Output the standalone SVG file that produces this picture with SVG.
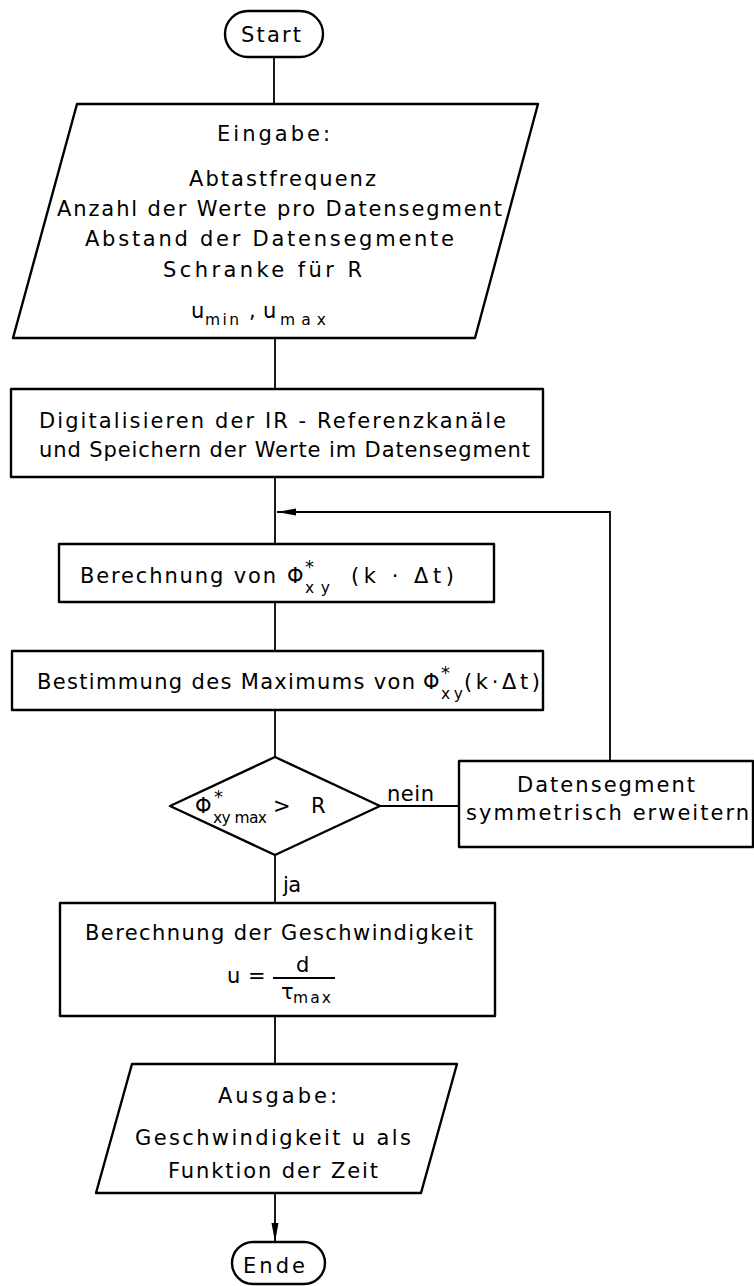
<svg xmlns="http://www.w3.org/2000/svg" width="754" height="1286" viewBox="0 0 754 1286">
<style>
  .shape { fill: #fff; stroke: #000; stroke-width: 2.4; stroke-linejoin: round; }
  .line { fill: none; stroke: #000; stroke-width: 1.8; }
  text { font-family: "DejaVu Sans", "Liberation Sans", sans-serif; font-size: 21px; fill: #000; }
  .sub { font-size: 15.5px; }
  .star { font-size: 18px; }
</style>
<defs>
  <marker id="arr" markerUnits="userSpaceOnUse" markerWidth="20" markerHeight="8" refX="19" refY="4" orient="auto">
    <path d="M0,0.5 L19,4 L0,7.5 z" fill="#000"/>
  </marker>
</defs>
<rect width="754" height="1286" fill="#fff"/>

<g id="connectors">
  <line class="line" x1="274" y1="57" x2="274" y2="104"/>
  <line class="line" x1="275" y1="338" x2="275" y2="389"/>
  <line class="line" x1="275" y1="477" x2="275" y2="544"/>
  <line class="line" x1="275" y1="602" x2="275" y2="651"/>
  <line class="line" x1="275" y1="710" x2="275" y2="757"/>
  <line class="line" x1="275" y1="855" x2="275" y2="903"/>
  <line class="line" x1="380" y1="806" x2="459" y2="806"/>
  <polyline class="line" points="610,761 610,512 277,512" marker-end="url(#arr)"/>
  <line class="line" x1="275" y1="1016" x2="275" y2="1064"/>
  <line class="line" x1="275" y1="1193" x2="275" y2="1242" marker-end="url(#arr)"/>
  <text x="387" y="801" textLength="47" lengthAdjust="spacing">nein</text>
  <text x="283" y="892" textLength="18" lengthAdjust="spacing">ja</text>
</g>

<g id="start">
  <rect class="shape" x="225" y="11" width="98" height="46" rx="23"/>
  <text x="241" y="42" textLength="60" lengthAdjust="spacing">Start</text>
</g>

<g id="eingabe">
  <polygon class="shape" points="77,104 538,104 475,338 13,338"/>
  <text x="217" y="141" textLength="113" lengthAdjust="spacing">Eingabe:</text>
  <text x="189" y="186" textLength="187" lengthAdjust="spacing">Abtastfrequenz</text>
  <text x="57" y="216" textLength="445" lengthAdjust="spacing">Anzahl der Werte pro Datensegment</text>
  <text x="85" y="246" textLength="369" lengthAdjust="spacing">Abstand der Datensegmente</text>
  <text x="163" y="277" textLength="199" lengthAdjust="spacing">Schranke für  R</text>
  <text x="191" y="318">u</text>
  <text class="sub" x="205" y="325" textLength="34" lengthAdjust="spacing">min</text>
  <text x="249" y="318">,</text>
  <text x="263" y="318">u</text>
  <text class="sub" x="280" y="325" textLength="46" lengthAdjust="spacing">max</text>
</g>

<g id="digitalisieren">
  <rect class="shape" x="11" y="389" width="532" height="88"/>
  <text x="39" y="428" textLength="467" lengthAdjust="spacing">Digitalisieren der IR - Referenzkanäle</text>
  <text x="39" y="457" textLength="491" lengthAdjust="spacing">und Speichern der Werte im Datensegment</text>
</g>

<g id="berechnung-phi">
  <rect class="shape" x="59" y="544" width="435" height="58"/>
  <text x="80" y="583" textLength="196" lengthAdjust="spacing">Berechnung von</text>
  <text x="287" y="583">Φ</text>
  <text class="star" x="305" y="573">*</text>
  <text class="sub" x="305" y="593" textLength="25" lengthAdjust="spacing">xy</text>
  <text x="351" y="583" textLength="103" lengthAdjust="spacing">(k · Δt)</text>
</g>

<g id="bestimmung">
  <rect class="shape" x="12" y="651" width="531" height="59"/>
  <text x="37" y="689" textLength="378" lengthAdjust="spacing">Bestimmung des Maximums von</text>
  <text x="423" y="689">Φ</text>
  <text class="star" x="441" y="679">*</text>
  <text class="sub" x="441" y="699" textLength="22" lengthAdjust="spacing">xy</text>
  <text x="464" y="689" textLength="76" lengthAdjust="spacing">(k·Δt)</text>
</g>

<g id="entscheidung">
  <polygon class="shape" points="275,757 380,806 275,855 170,806"/>
  <text x="195" y="813">Φ</text>
  <text class="star" x="214" y="803">*</text>
  <text class="sub" x="213" y="823" textLength="54" lengthAdjust="spacing">xy max</text>
  <text x="273" y="813">&gt;</text>
  <text x="311" y="813">R</text>
</g>

<g id="datensegment">
  <rect class="shape" x="459" y="761" width="294" height="86"/>
  <text x="517" y="792" textLength="178" lengthAdjust="spacing">Datensegment</text>
  <text x="466" y="820" textLength="283" lengthAdjust="spacing">symmetrisch erweitern</text>
</g>

<g id="geschwindigkeit">
  <rect class="shape" x="60" y="903" width="435" height="113"/>
  <text x="85" y="940" textLength="388" lengthAdjust="spacing">Berechnung der Geschwindigkeit</text>
  <text x="227" y="983">u</text>
  <text x="248" y="983">=</text>
  <line class="line" x1="273" y1="978" x2="335" y2="978"/>
  <text x="296" y="972">d</text>
  <text x="281" y="999">τ</text>
  <text class="sub" x="293" y="1003" textLength="38" lengthAdjust="spacing">max</text>
</g>

<g id="ausgabe">
  <polygon class="shape" points="132,1064 457,1064 421,1193 96,1193"/>
  <text x="218" y="1103" textLength="119" lengthAdjust="spacing">Ausgabe:</text>
  <text x="135" y="1145" textLength="276" lengthAdjust="spacing">Geschwindigkeit u als</text>
  <text x="168" y="1178" textLength="210" lengthAdjust="spacing">Funktion der Zeit</text>
</g>

<g id="ende">
  <rect class="shape" x="232" y="1242" width="93" height="42" rx="21"/>
  <text x="243" y="1273" textLength="62" lengthAdjust="spacing">Ende</text>
</g>
</svg>
